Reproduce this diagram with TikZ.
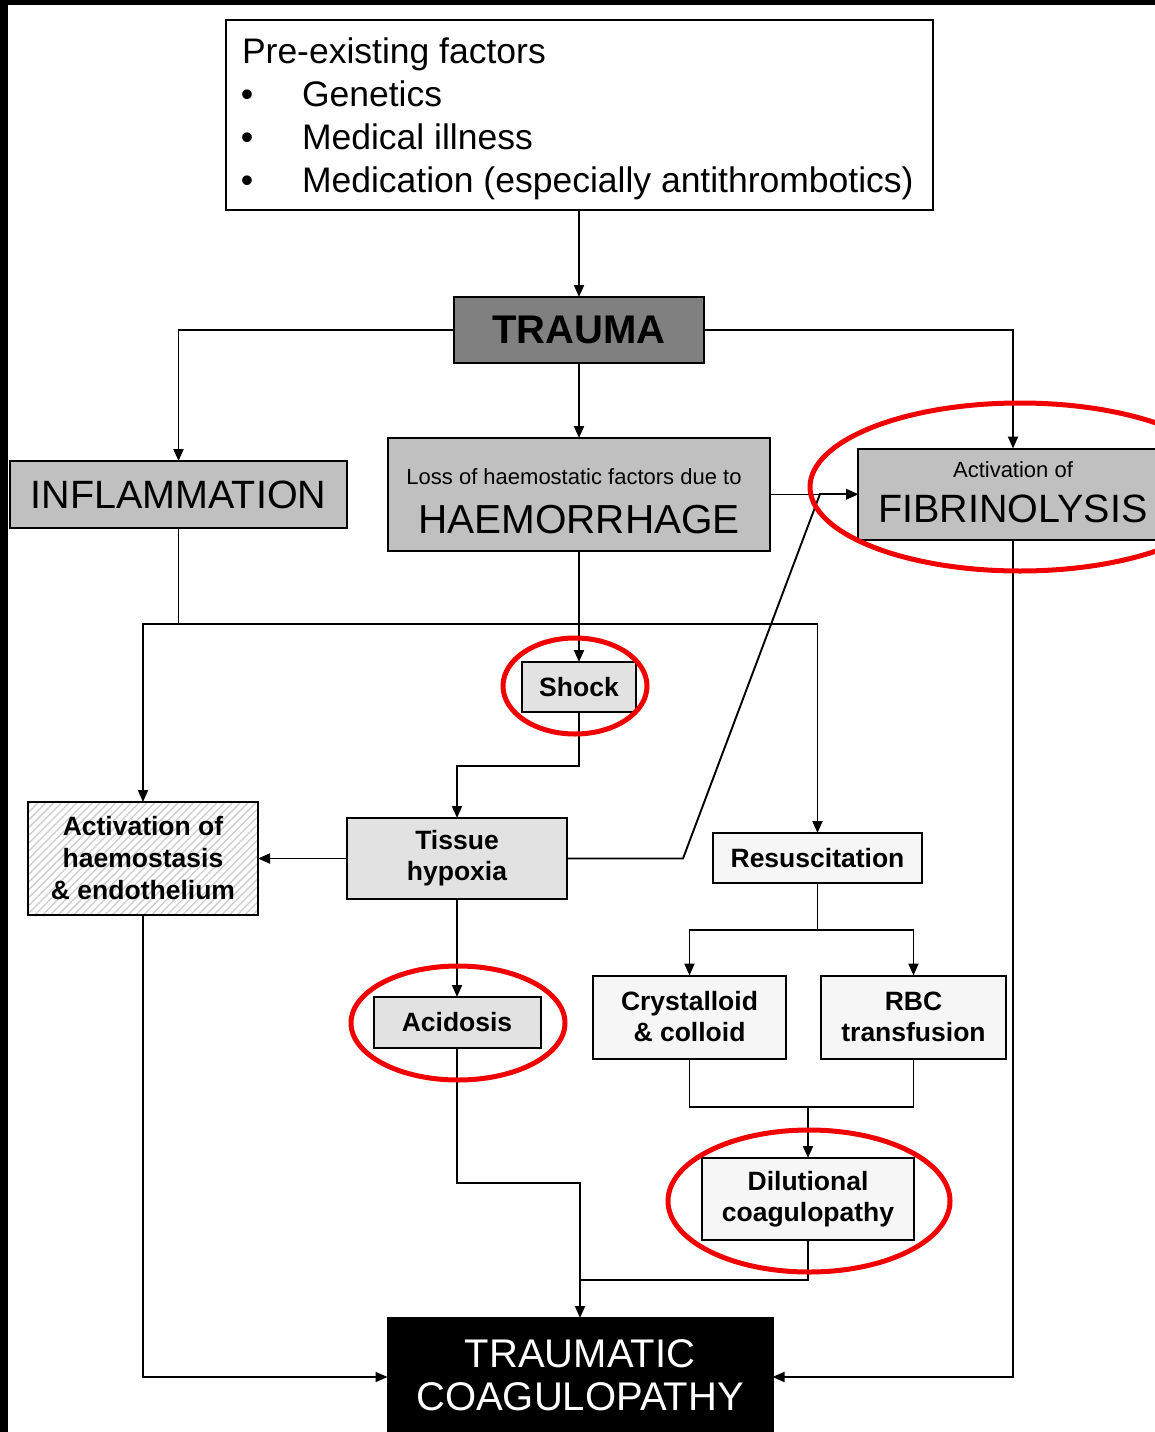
\documentclass[tikz,border=0pt]{standalone}
\usepackage{fontspec}
\setmainfont{Liberation Sans}
\usetikzlibrary{arrows.meta,patterns.meta}
\definecolor{tgray}{HTML}{808080}
\definecolor{lgray}{HTML}{C0C0C0}
\definecolor{dgray}{HTML}{E2E2E2}
\definecolor{vgray}{HTML}{F6F6F6}
\definecolor{ringred}{HTML}{F00000}
\tikzset{
  box/.style={draw=black, line width=2pt, inner sep=0pt, outer sep=0pt, align=center, text=black},
  lbl/.style={inner sep=0pt, outer sep=0pt, text=black},
  arr/.style={line width=1.9pt, -{Triangle[length=12pt,width=10pt]}},
  ln/.style={line width=1.9pt},
  ring/.style={draw=ringred, line width=5pt},
  huge/.style={font=\fontsize{40}{43}\selectfont},
  bigr/.style={font=\fontsize{39.5}{46}\selectfont},
  smallr/.style={font=\fontsize{22}{26}\selectfont},
  pre/.style={font=\fontsize{35.5}{43}\selectfont},
  midb/.style={font=\bfseries\fontsize{26.5}{31}\selectfont},
}
\begin{document}
\begin{tikzpicture}[x=1pt,y=-1pt]
\useasboundingbox (0,0) rectangle (1155,1432);
\clip (0,0) rectangle (1155,1432);
\fill[black] (0,0) rectangle (1155,1432);
\fill[white] (8,5) rectangle (1155,1432);

% Pre-existing factors
\node[box, fill=white, minimum width=707, minimum height=190] (prebox) at (579.5,115) {};
\node[lbl, pre, anchor=base west] (pretitle) at (242,63) {Pre-existing factors};
\node[lbl, pre, anchor=base] (bul1) at (247,106) {•};
\node[lbl, pre, anchor=base] (bul2) at (247,149) {•};
\node[lbl, pre, anchor=base] (bul3) at (247,192) {•};
\node[lbl, pre, anchor=base west] (it1) at (302,106) {Genetics};
\node[lbl, pre, anchor=base west] (it2) at (302,149) {Medical illness};
\node[lbl, pre, anchor=base west] (it3) at (302,192) {Medication (especially antithrombotics)};

% TRAUMA
\node[box, fill=tgray, minimum width=250, minimum height=66, font=\bfseries\fontsize{40}{46}\selectfont] (trauma) at (579,330) {TRAUMA};

% INFLAMMATION
\node[box, fill=lgray, minimum width=337, minimum height=67, bigr] (inflam) at (178.5,494.5) {INFLAMMATION};

% HAEMORRHAGE
\node[box, fill=lgray, minimum width=382, minimum height=113] (haem) at (579,494.5) {};
\node[lbl, smallr, anchor=base] (haemA) at (574,484) {Loss of haemostatic factors due to};
\node[lbl, font=\fontsize{40.5}{46}\selectfont, anchor=base] (haemB) at (579,533) {HAEMORRHAGE};

% FIBRINOLYSIS
\node[box, fill=lgray, minimum width=310, minimum height=91] (fib) at (1013,494) {};
\node[lbl, smallr, anchor=base] (fibA) at (1013,477) {Activation of};
\node[lbl, font=\fontsize{39.5}{46}\selectfont, anchor=base] (fibB) at (1013,522) {FIBRINOLYSIS};

% Shock
\node[box, fill=dgray, minimum width=114, minimum height=50, midb] (shock) at (579,687) {Shock};

% Activation of haemostasis
\node[box, preaction={fill=white}, pattern={Lines[angle=45,distance=5.5pt,line width=1.3pt]}, pattern color=gray!40,
      minimum width=230, minimum height=113, font=\bfseries\fontsize{26.5}{32}\selectfont] (act) at (143,858.5)
      {Activation of\\haemostasis\\\& endothelium};

% Tissue hypoxia
\node[box, fill=dgray, minimum width=220, minimum height=81, midb] (tissue) at (457,858.5) {\raisebox{-2pt}{Tissue}\\\raisebox{-2pt}{hypoxia}};

% Resuscitation
\node[box, fill=vgray, minimum width=209, minimum height=50, midb] (resus) at (817.5,858) {Resuscitation};

% Crystalloid & colloid
\node[box, fill=vgray, minimum width=193, minimum height=83, midb] (cryst) at (689.5,1017) {Crystalloid\\\& colloid};

% RBC transfusion
\node[box, fill=vgray, minimum width=185, minimum height=83, midb] (rbc) at (913.5,1017) {RBC\\transfusion};

% Acidosis
\node[box, fill=dgray, minimum width=167, minimum height=51, midb] (acid) at (457,1022.5) {Acidosis};

% Dilutional coagulopathy
\node[box, fill=vgray, minimum width=212, minimum height=82, midb] (dil) at (808,1199) {Dilutional\\coagulopathy};

% TRAUMATIC COAGULOPATHY
\node[box, fill=black, minimum width=385, minimum height=118] (tc) at (580,1377) {};
\node[lbl, text=white, huge, anchor=base] (tcA) at (580,1367) {TRAUMATIC};
\node[lbl, text=white, huge, anchor=base] (tcB) at (580,1410) {COAGULOPATHY};

% junction coordinates
\coordinate (jL) at (143,624);
\coordinate (jR) at (817.5,624);
\coordinate (k1) at (457,766);
\coordinate (d1) at (683,858.5);
\coordinate (d2) at (820,494);
\coordinate (a1) at (457,1183);
\coordinate (a2) at (580,1183);
\coordinate (r1) at (817.5,930);
\coordinate (c1) at (808,1107);
\coordinate (e1) at (580,1280);

% connectors
\draw[arr] (prebox.south -| trauma.north) -- (trauma.north);
\draw[arr] (trauma.west) -| (inflam.north);
\draw[arr] (trauma.east) -| (fib.north);
\draw[arr] (trauma.south) -- (haem.north);
\draw[arr] (haem.east) -- (haem.east -| fib.west);
\draw[arr] (haem.south -| shock.north) -- (shock.north);
\draw[arr] (inflam.south) |- (jL) -- (act.north);
\draw[arr] (jL) -- (jR) -- (resus.north);
\draw[arr] (shock.south) |- (k1) -- (tissue.north);
\draw[arr] (tissue.west) -- (act.east);
\draw[arr] (tissue.east) -- (d1) -- (d2) -- (d2 -| fib.west);
\draw[arr] (tissue.south) -- (acid.north);
\draw[arr] (acid.south) -- (a1) -- (a2) -- (tc.north);
\draw[ln] (resus.south) -- (r1);
\draw[arr] (r1) -| (cryst.north);
\draw[arr] (r1) -| (rbc.north);
\draw[ln] (cryst.south) |- (c1);
\draw[ln] (rbc.south) |- (c1);
\draw[arr] (c1) -- (dil.north);
\draw[ln] (dil.south) |- (e1);
\draw[arr] (act.south) |- (tc.west);
\draw[arr] (fib.south) |- (tc.east);

% red annotation rings
\draw[ring] (1020,487) ellipse [x radius=210, y radius=84];
\draw[ring] (575,686) ellipse [x radius=72, y radius=48];
\draw[ring] (458,1023) ellipse [x radius=107, y radius=57];
\draw[ring] (809,1201) ellipse [x radius=141, y radius=71];
\end{tikzpicture}
\end{document}
